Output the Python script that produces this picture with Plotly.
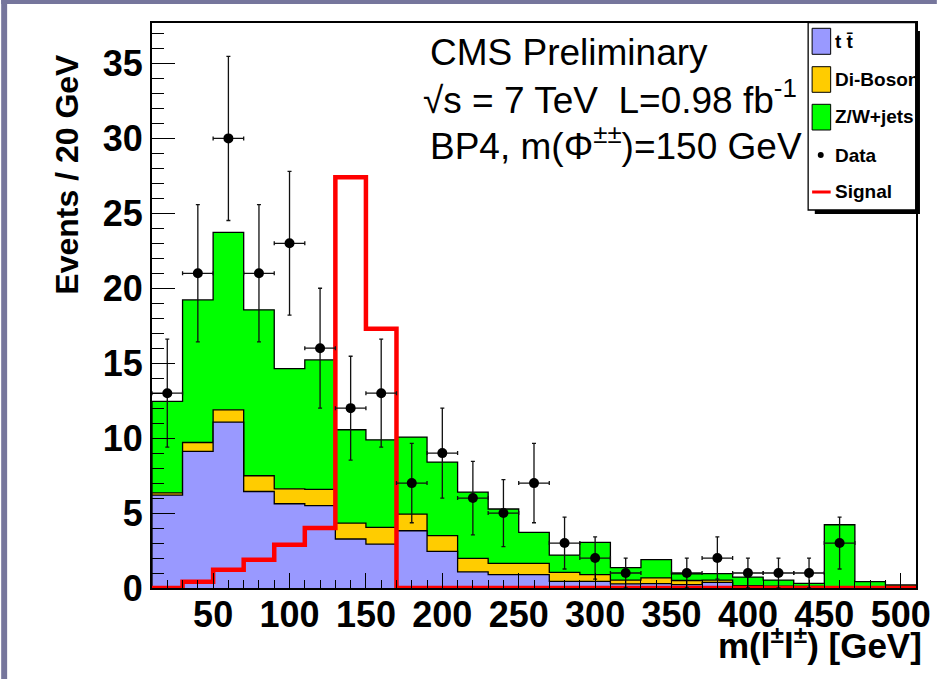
import numpy as np
import plotly.graph_objects as go

# ---- histogram data: 20 GeV bins from 10 to 510 GeV ----
bin_edges = list(range(10, 511, 20))
bin_centers = [e + 10 for e in bin_edges[:-1]]

ttbar = [6.2, 9.12, 11.07, 6.44, 5.62, 5.49, 3.27, 2.93, 3.82, 2.44, 1.07, 0.89, 0.89,
         0.44, 0.44, 0.27, 0.29, 0.22, 0.38, 0.05, 0.04, 0.02, 0.02, 0.02, 0.0]
diboson = [0.15, 0.59, 0.82, 1.05, 1.0, 1.09, 1.06, 1.11, 1.11, 1.06, 0.91, 0.75, 0.75,
           0.6, 0.45, 0.26, 0.38, 0.28, 0.15, 0.11, 0.08, 0.08, 0.04, 0.03, 0.02]
zwjets = [6.1, 9.51, 11.84, 11.07, 8.02, 8.64, 6.23, 5.85, 5.14, 4.9, 4.42, 3.63, 2.07,
          1.16, 2.15, 0.83, 1.22, 0.45, 0.43, 0.57, 0.41, 0.21, 4.16, 0.37, 0.18]
data_counts = [13, 21, 30, 21, 23, 16, 12, 13, 7, 9, 6, 5, 7,
               3, 2, 1, 0, 1, 2, 1, 1, 1, 3, 0, 0]
signal = [0.0, 0.42, 1.22, 1.89, 2.89, 4.0, 27.4, 17.3, 0, 0, 0, 0, 0,
          0, 0, 0, 0, 0, 0, 0, 0, 0, 0, 0, 0]

x_ticks = [50, 100, 150, 200, 250, 300, 350, 400, 450, 500]
y_ticks = [0, 5, 10, 15, 20, 25, 30, 35]

FONT = "Liberation Sans"
W, H = 943, 679
ML, MR, MT, MB = 152, 21, 23, 91


def px(x):
    return (x - ML) / (W - ML - MR)


def py(y):
    return (H - MB - y) / (H - MT - MB)


def step_xy(values):
    """Closed step outline of a histogram (ROOT-style)."""
    xs = [bin_edges[0]] + bin_edges[:-1] + [bin_edges[-1], bin_edges[-1]]
    ys = [0.0] + list(values) + [values[-1], 0.0]
    return xs, ys


tt = np.array(ttbar)
cum_db = tt + np.array(diboson)
cum_all = cum_db + np.array(zwjets)

fig = go.Figure()

# stacked backgrounds: draw the cumulative sums from the top down
for vals, color in [(cum_all, "#00ff00"), (cum_db, "#ffcc00"), (tt, "#9999ff")]:
    xs, ys = step_xy(vals)
    fig.add_trace(go.Scatter(
        x=xs, y=ys, mode="lines", line_shape="hv",
        line=dict(color="black", width=1.3),
        fill="tozeroy", fillcolor=color, showlegend=False, hoverinfo="skip"))

# signal histogram
sx, sy = step_xy(signal)
fig.add_trace(go.Scatter(
    x=sx, y=sy, mode="lines", line_shape="hv",
    line=dict(color="#ff0000", width=4.5), showlegend=False, hoverinfo="skip"))

# data points with Poisson errors (empty bins not drawn)
dx = [c for c, n in zip(bin_centers, data_counts) if n > 0]
dy = [n for n in data_counts if n > 0]
fig.add_trace(go.Scatter(
    x=dx, y=dy, mode="markers",
    marker=dict(color="black", size=10, symbol="circle"),
    error_y=dict(type="data", array=[np.sqrt(n) for n in dy],
                 color="#111111", thickness=1.3, width=2),
    error_x=dict(type="constant", value=10, color="#111111", thickness=1.3, width=2),
    showlegend=False, hoverinfo="skip"))

axis_font = dict(family=FONT, size=36, color="black", weight="bold")
fig.update_xaxes(
    range=[10, 510], tickmode="array", tickvals=x_ticks,
    ticktext=[str(v) for v in x_ticks],
    ticks="inside", ticklen=15, tickwidth=1.2, tickcolor="black",
    minor=dict(ticks="inside", ticklen=8, dtick=10, tick0=0, tickcolor="black", tickwidth=1.2),
    showline=True, linecolor="black", linewidth=2, mirror=True,
    showgrid=False, zeroline=False, tickfont=axis_font, ticklabelstandoff=-6)
fig.update_yaxes(
    range=[0, 37.7], tickmode="array", tickvals=y_ticks,
    ticktext=[str(v) for v in y_ticks],
    ticks="inside", ticklen=23, tickwidth=1.2, tickcolor="black",
    minor=dict(ticks="inside", ticklen=12, dtick=1, tick0=0, tickcolor="black", tickwidth=1.2),
    showline=True, linecolor="black", linewidth=2, mirror=True,
    showgrid=False, zeroline=False, tickfont=axis_font)

shapes = []
# page frame strips
frame_col = "#76769c"
shapes.append(dict(type="rect", xref="paper", yref="paper", x0=px(0), x1=px(6),
                   y0=py(H), y1=py(0), fillcolor=frame_col, line_width=0, layer="below"))
shapes.append(dict(type="rect", xref="paper", yref="paper", x0=px(0), x1=px(W),
                   y0=py(4), y1=py(0), fillcolor=frame_col, line_width=0, layer="below"))

# legend box with drop shadow
shapes.append(dict(type="rect", xref="paper", yref="paper", x0=px(820), x1=px(926),
                   y0=py(214), y1=py(31), fillcolor="black", line_width=0))
shapes.append(dict(type="rect", xref="paper", yref="paper", x0=px(813.3), x1=px(921.7),
                   y0=py(210), y1=py(22.7), fillcolor="white",
                   line=dict(color="black", width=1.3)))
for (y0, y1), col in [((28.3, 54.3), "#9999ff"), ((66.7, 92.3), "#ffcc00"),
                      ((104.3, 130), "#00ff00")]:
    shapes.append(dict(type="rect", xref="paper", yref="paper", x0=px(817.3), x1=px(836),
                       y0=py(y1), y1=py(y0), fillcolor=col,
                       line=dict(color="black", width=1)))
shapes.append(dict(type="circle", xref="paper", yref="paper", x0=px(823), x1=px(829),
                   y0=py(158), y1=py(152), fillcolor="black", line_width=0))
shapes.append(dict(type="line", xref="paper", yref="paper", x0=px(817.3), x1=px(836),
                   y0=py(192), y1=py(192), line=dict(color="#ff0000", width=3)))

annotations = []


def note(text, x, y, size, bold=False, xanchor="left", angle=0):
    annotations.append(dict(
        text=f"<b>{text}</b>" if bold else text,
        x=px(x), y=py(y), xref="paper", yref="paper",
        xanchor=xanchor, yanchor="middle", showarrow=False, textangle=angle,
        font=dict(family=FONT, size=size, color="black")))


legend_labels = ["t t\u0304", "Di-Boson", "Z/W+jets", "Data", "Signal"]
for lab, yc in zip(legend_labels, [41, 80, 117, 155, 192]):
    note(lab, 838, yc, 19, bold=True)

note("CMS Preliminary", 430, 52, 37)
note("\u221as = 7 TeV\u00a0\u00a0L=0.98 fb<sup>-1</sup>", 423, 97, 37)
note("BP4, m(\u03a6<sup>\u00b1\u00b1</sup>)=150 GeV", 430, 143, 37)

note("Events / 20 GeV", 66, 174, 32, bold=True, xanchor="center", angle=-90)
note("m(l<sup>\u00b1</sup>l<sup>\u00b1</sup>) [GeV]", 930, 643, 35, bold=True, xanchor="right")

fig.update_layout(
    width=W, height=H,
    margin=dict(l=ML, r=MR, t=MT, b=MB),
    paper_bgcolor="white", plot_bgcolor="white",
    shapes=shapes, annotations=annotations,
    font=dict(family=FONT, color="black"),
)

fig.write_html("out.html")
